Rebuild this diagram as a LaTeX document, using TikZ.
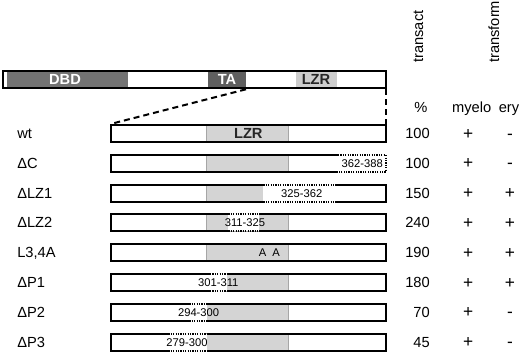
\documentclass[tikz,border=0pt]{standalone}
\usepackage{fontspec}
\setmainfont{Liberation Sans}
\definecolor{dbdgray}{RGB}{115,115,115}
\definecolor{tagray}{RGB}{95,95,95}
\definecolor{lzrgray}{RGB}{205,205,205}
\definecolor{rowgray}{RGB}{212,212,212}
\tikzset{
  barline/.style={line width=1.5pt},
  dotline/.style={line width=1.5pt, dash pattern=on 0.9pt off 0.9pt},
  dashline/.style={line width=1.5pt, dash pattern=on 4.5pt off 3pt},
  lab/.style={font=\fontsize{11}{13}\selectfont, inner sep=0pt},
  sign/.style={font=\fontsize{13}{15}\selectfont, inner sep=0pt},
  domlab/.style={font=\fontsize{11}{13}\selectfont\bfseries, inner sep=0pt},
  small/.style={font=\fontsize{8.4}{10}\selectfont, inner sep=0pt},
  grayfill/.style={fill=rowgray, draw=gray!70, line width=0.4pt}
}
% #1 yc, #2 gray from, #3 gray to, #4 del from, #5 del to
\newcommand\delrow[5]{%
  \fill[white] (110.5,#1-8.5) rectangle (385.7,#1+8.5);
  \filldraw[grayfill] (#2,#1-8.5) rectangle (#3,#1+8.5);
  \fill[white] (#4,#1-8.5) rectangle (#5,#1+8.5);
  \draw[barline] (#4,#1-8.5) -- (110.5,#1-8.5) -- (110.5,#1+8.5) -- (#4,#1+8.5);
  \draw[barline] (#5,#1-8.5) -- (385.7,#1-8.5) -- (385.7,#1+8.5) -- (#5,#1+8.5);
  \draw[dotline] (#4,#1-8.5) -- (#5,#1-8.5) (#4,#1+8.5) -- (#5,#1+8.5);
}
% #1 yc, #2 label name, #3 label, #4 number, #5 myelo, #6 ery
\newcommand\rowtext[6]{%
  \node[lab, anchor=base west] (#2) at (17,#1+5) {#3};
  \node[lab, anchor=base east] (#2num) at (430,#1+5) {#4};
  \node[sign, anchor=base] (#2my) at (468.3,#1+5.5) {#5};
  \node[sign, anchor=base] (#2ery) at (510,#1+5.5) {#6};
}
\begin{document}
\begin{tikzpicture}[x=0.75pt,y=-0.75pt]
\useasboundingbox (0,0) rectangle (520,354);
\fill[white] (0,0) rectangle (520,354);

% ---- top full-length bar
\fill[white] (2.7,71) rectangle (385.7,88.3);
\fill[dbdgray] (7.3,71) rectangle (128.3,88.3);
\fill[tagray] (208.3,71) rectangle (246,88.3);
\fill[lzrgray] (296,71) rectangle (336.7,88.3);
\draw[barline] (2.7,71) rectangle (385.7,88.3);
\node[domlab, text=white] (dbd) at (65,79.7) {DBD};
\node[domlab, text=white] (ta) at (227,79.7) {TA};
\node[domlab, text=black!85] (lzrtop) at (316,79.7) {LZR};
\coordinate (taend) at (246,89.3);
\coordinate (topend) at (385.7,89.3);

% ---- header
\node[lab, rotate=90, anchor=base west] (transact) at (423,63) {transact};
\node[lab, rotate=90, anchor=base west] (transform) at (499,63) {transform};
\node[lab, anchor=base] (pct) at (421,112) {\%};
\node[lab, anchor=base] (myelo) at (471.7,112) {myelo};
\node[lab, anchor=base] (ery) at (509,112) {ery};

% ---- wt
\fill[white] (110.5,125) rectangle (385.7,142);
\filldraw[grayfill] (206,125) rectangle (288,142);
\draw[barline] (110.5,125) rectangle (385.7,142);
\node[domlab, text=black!85] (lzrwt) at (248.3,133.7) {LZR};
\coordinate (wtstart) at (110.5,124);
\coordinate (wtend) at (385.7,124);
\draw[dashline] (taend) -- (wtstart);
\draw[dashline] (topend) -- (wtend);
\rowtext{133.5}{wt}{wt}{100}{+}{-}

% ---- dC
\fill[white] (110.5,154.8) rectangle (385.7,171.8);
\filldraw[grayfill] (206,154.8) rectangle (288,171.8);
\draw[barline] (338,154.8) -- (110.5,154.8) -- (110.5,171.8) -- (338,171.8);
\draw[dotline] (338,154.8) -- (385.7,154.8) -- (385.7,171.8) -- (338,171.8);
\node[small, anchor=base east] (dcdel) at (383,167.3) {362-388};
\rowtext{163.3}{dc}{ΔC}{100}{+}{-}

% ---- dLZ1
\delrow{193.1}{206}{263.3}{263.3}{336.7}
\node[small, anchor=base] (lz1del) at (301.7,197.1) {325-362};
\rowtext{193.1}{lzone}{ΔLZ1}{150}{+}{+}

% ---- dLZ2
\delrow{222.9}{206}{288}{228.3}{259.3}
\node[small, anchor=base] (lz2del) at (245,226.9) {311-325};
\rowtext{222.9}{lztwo}{ΔLZ2}{240}{+}{+}

% ---- L3,4A
\fill[white] (110.5,244.2) rectangle (385.7,261.2);
\filldraw[grayfill] (206,244.2) rectangle (288,261.2);
\draw[barline] (110.5,244.2) rectangle (385.7,261.2);
\node[small, anchor=base] (aone) at (262.5,256.7) {A};
\node[small, anchor=base] (atwo) at (276,256.7) {A};
\rowtext{252.7}{lthree}{L3,4A}{190}{+}{+}

% ---- dP1
\delrow{282.5}{226.7}{288}{210}{226.7}
\node[small, anchor=base] (p1del) at (218.3,286.5) {301-311};
\rowtext{282.5}{pone}{ΔP1}{180}{+}{+}

% ---- dP2
\delrow{312.3}{206.7}{288}{189.3}{206.7}
\node[small, anchor=base] (p2del) at (198.6,316.3) {294-300};
\rowtext{312.3}{ptwo}{ΔP2}{70}{+}{-}

% ---- dP3
\delrow{342.1}{206.7}{288}{168.3}{206.7}
\node[small, anchor=base] (p3del) at (187,346.1) {279-300};
\rowtext{342.1}{pthree}{ΔP3}{45}{+}{-}
\end{tikzpicture}
\end{document}
